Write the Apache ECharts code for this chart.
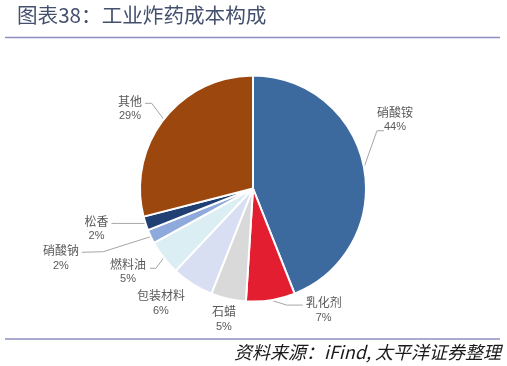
<!DOCTYPE html>
<html>
<head>
<meta charset="utf-8">
<script src="https://cdn.jsdelivr.net/npm/echarts@6/dist/echarts.min.js"></script>
<style>html,body{margin:0;padding:0;background:#fff;}#c{width:507px;height:366px;}</style>
</head>
<body>
<div id="c"></div>
<script>
// ---- data ----
const categories = ['硝酸铵', '乳化剂', '石蜡', '包装材料', '燃料油', '硝酸钠', '松香', '其他'];
const values = [44, 7, 5, 6, 5, 2, 2, 29];
const titleText = '图表38：工业炸药成本构成';
const sourceText = '资料来源：iFind, 太平洋证券整理';

// ---- styles ----
const colors = ['#3C6A9E', '#E31E30', '#D9D9D9', '#D9DFF2', '#DAEEF3', '#8EA9DB', '#203F72', '#9C470D'];
// label layout offsets relative to the slice's edge point: [bend, end, labelCenter]
const labelOffsets = [
  [[13, -36.6], [20, -36.6], [31, -47.6]],
  [[16, 5], [32, 5], [53, 10]],
  [null, null, [-4.4, 20.2]],
  [null, null, [-31.5, 19.1]],
  [[-7.7, 10.5], [-13.7, 10.5], [-35.7, 14.2]],
  [[-47.5, 15.1], [-69, 15.7], [-89.8, 21.4]],
  [[-28, 0], [-34, 0], [-49, 5.4]],
  [[-12, -15.9], [-18.7, -15.9], [-33.7, -10.6]]
];

const chart = echarts.init(document.getElementById('c'), null, {renderer: 'canvas'});
const CJK = '"Noto Sans CJK SC", "Noto Sans", sans-serif';

chart.setOption({
  backgroundColor: '#fff',
  animation: false,
  title: {
    text: titleText,
    left: 17, top: 5, padding: 0,
    textStyle: {fontFamily: CJK, fontSize: 20.6, fontWeight: 'normal', color: '#44506E'}
  },
  graphic: [
    {type: 'line', shape: {x1: 5, y1: 37.5, x2: 500, y2: 37.5}, style: {stroke: '#8E8EC0', lineWidth: 1.5}},
    {type: 'line', shape: {x1: 5, y1: 339, x2: 500, y2: 339}, style: {stroke: '#8E8EC0', lineWidth: 1.5}},
    {type: 'text', right: 6, top: 343, style: {text: sourceText, font: 'italic 18px "Noto Sans CJK SC", sans-serif', fill: '#1a1a1a'}}
  ],
  series: [{
    type: 'pie',
    center: [253, 188.5],
    radius: 113,
    startAngle: 90,
    clockwise: true,
    avoidLabelOverlap: false,
    itemStyle: {borderColor: '#fff', borderWidth: 2},
    label: {
      show: true,
      position: 'outside',
      formatter: '{n|{b}}\n{p|{d}%}',
      color: '#595959',
      rich: {
        n: {fontFamily: CJK, fontSize: 12, color: '#595959', lineHeight: 15},
        p: {fontFamily: '"Liberation Sans", Arial, sans-serif', fontSize: 11, color: '#595959', lineHeight: 15}
      }
    },
    labelLine: {show: true, length: 10, length2: 6, lineStyle: {color: '#A6A6A6', width: 1}},
    labelLayout: function (params) {
      const pts = params.labelLinePoints;
      if (!pts) return {};
      const p0 = [pts[0][0], pts[0][1]];
      const off = labelOffsets[params.dataIndex];
      const b = off[0] ? [p0[0] + off[0][0], p0[1] + off[0][1]] : p0.slice();
      const e = off[1] ? [p0[0] + off[1][0], p0[1] + off[1][1]] : p0.slice();
      return {
        x: p0[0] + off[2][0],
        y: p0[1] + off[2][1],
        align: 'center',
        verticalAlign: 'middle',
        labelLinePoints: [p0, b, e]
      };
    },
    data: categories.map((c, i) => ({name: c, value: values[i], itemStyle: {color: colors[i]}}))
  }]
});
</script>
</body>
</html>
